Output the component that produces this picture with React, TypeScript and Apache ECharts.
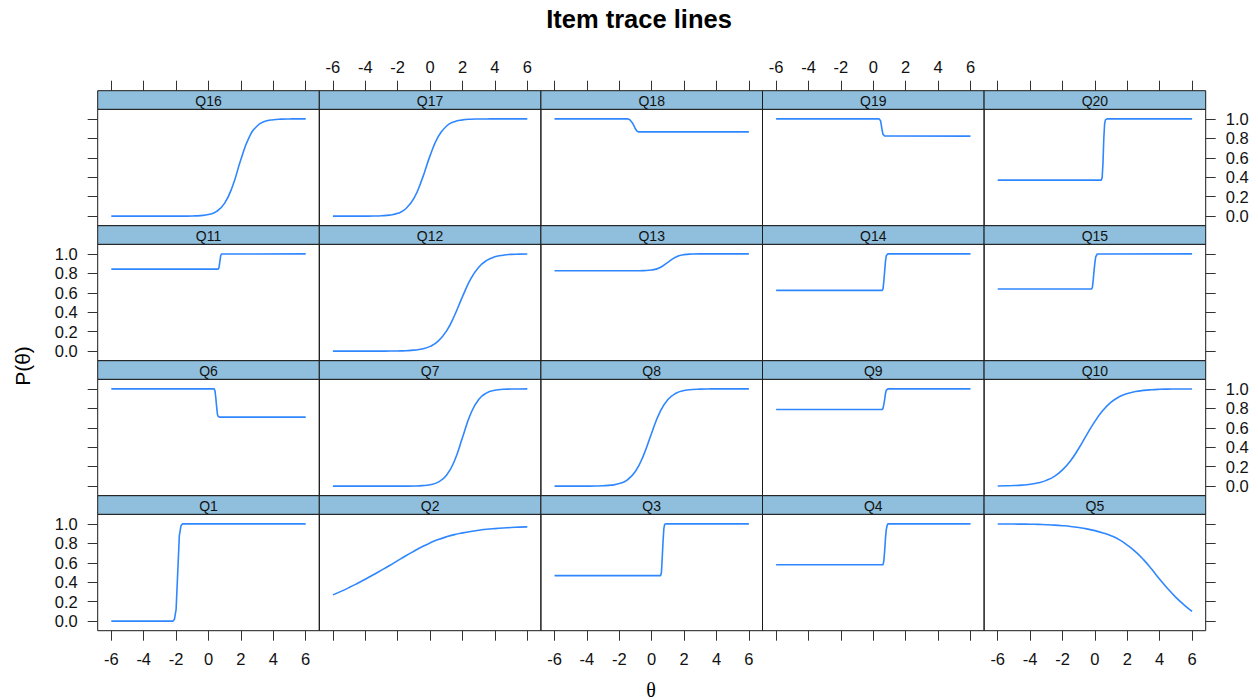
import React, { useEffect, useRef } from "react";
import * as echarts from "echarts";

// ---------- data ----------
const thetaGrid = [-6, -5.5, -5, -4.5, -4, -3.5, -3, -2.5, -2, -1.5, -1, -0.5, 0, 0.5, 1, 1.5, 2, 2.5, 3, 3.5, 4, 4.5, 5, 5.5, 6];
const xTicks = [-6, -4, -2, 0, 2, 4, 6];
const yTicks = [0, 0.2, 0.4, 0.6, 0.8, 1.0];

// smooth trace lines, values at thetaGrid
const q2 = [0.270, 0.306, 0.345, 0.387, 0.431, 0.477, 0.524, 0.572, 0.622, 0.672, 0.719, 0.764, 0.804, 0.838, 0.866, 0.889, 0.907, 0.922, 0.934, 0.944, 0.951, 0.957, 0.962, 0.966, 0.969];
const q5 = [0.999, 0.999, 0.998, 0.997, 0.996, 0.994, 0.991, 0.987, 0.981, 0.973, 0.962, 0.948, 0.930, 0.907, 0.878, 0.838, 0.782, 0.715, 0.632, 0.535, 0.43, 0.333, 0.245, 0.168, 0.10];
const q7 = [0, 0, 0, 0, 0, 0, 0, 0.0001, 0.0002, 0.0006, 0.0018, 0.0052, 0.0148, 0.0411, 0.109, 0.259, 0.5, 0.741, 0.891, 0.959, 0.985, 0.995, 0.998, 0.999, 1.0];
const q8 = [0, 0, 0.0001, 0.0002, 0.0006, 0.0016, 0.004, 0.0103, 0.0263, 0.0654, 0.153, 0.319, 0.547, 0.758, 0.89, 0.954, 0.982, 0.993, 0.997, 0.999, 1, 1, 1, 1, 1];
const q10 = [0.002, 0.0036, 0.0063, 0.0111, 0.0196, 0.0344, 0.0595, 0.101, 0.167, 0.262, 0.387, 0.529, 0.666, 0.78, 0.863, 0.918, 0.952, 0.972, 0.984, 0.991, 0.995, 0.997, 0.998, 0.999, 0.999];
const q12 = [0, 0, 0, 0, 0.0001, 0.0002, 0.0004, 0.0009, 0.0021, 0.0047, 0.0103, 0.0228, 0.0493, 0.103, 0.204, 0.364, 0.56, 0.739, 0.863, 0.933, 0.969, 0.986, 0.994, 0.997, 0.999];
const q13 = [0.826, 0.826, 0.826, 0.826, 0.826, 0.826, 0.826, 0.826, 0.826, 0.826, 0.826, 0.828, 0.834, 0.858, 0.913, 0.968, 0.992, 0.998, 1, 1, 1, 1, 1, 1, 1];
const q16 = [0, 0, 0, 0, 0, 0, 0, 0.0001, 0.0002, 0.0006, 0.0019, 0.0057, 0.0168, 0.0488, 0.134, 0.316, 0.582, 0.807, 0.926, 0.974, 0.991, 0.997, 0.999, 1, 1];
const q17 = [0, 0, 0.0001, 0.0002, 0.0006, 0.0015, 0.0041, 0.011, 0.029, 0.076, 0.182, 0.378, 0.622, 0.818, 0.924, 0.971, 0.989, 0.996, 0.998, 0.999, 1, 1, 1, 1, 1];

// near-step trace lines, [theta, P] pairs
const q1 = [[-6, 0], [-2.2, 0], [-2.1, 0.02], [-2.0, 0.12], [-1.9, 0.5], [-1.8, 0.88], [-1.7, 0.98], [-1.6, 1], [6, 1]];
const q3 = [[-6, 0.468], [0.55, 0.468], [0.6, 0.5], [0.65, 0.65], [0.7, 0.82], [0.75, 0.95], [0.8, 0.995], [0.9, 1], [6, 1]];
const q4 = [[-6, 0.58], [0.6, 0.58], [0.65, 0.62], [0.7, 0.72], [0.75, 0.85], [0.8, 0.94], [0.85, 0.98], [0.9, 1], [6, 1]];
const q6 = [[-6, 1], [0.35, 1], [0.4, 0.98], [0.45, 0.91], [0.5, 0.82], [0.55, 0.74], [0.6, 0.715], [0.7, 0.709], [6, 0.709]];
const q9 = [[-6, 0.788], [0.55, 0.788], [0.6, 0.8], [0.65, 0.84], [0.7, 0.89], [0.75, 0.95], [0.8, 0.985], [0.9, 1], [6, 1]];
const q11 = [[-6, 0.843], [0.6, 0.843], [0.65, 0.86], [0.7, 0.92], [0.75, 0.98], [0.8, 0.998], [6, 1]];
const q14 = [[-6, 0.625], [0.55, 0.625], [0.6, 0.64], [0.65, 0.72], [0.7, 0.82], [0.75, 0.92], [0.8, 0.98], [0.9, 1], [6, 1]];
const q15 = [[-6, 0.638], [-0.2, 0.638], [-0.15, 0.66], [-0.1, 0.74], [-0.05, 0.83], [0, 0.91], [0.05, 0.97], [0.15, 0.998], [6, 1]];
const q18 = [[-6, 1], [-1.5, 1], [-1.35, 0.99], [-1.2, 0.96], [-1.1, 0.93], [-1.0, 0.895], [-0.9, 0.872], [-0.8, 0.866], [6, 0.866]];
const q19 = [[-6, 1], [0.35, 1], [0.45, 0.98], [0.5, 0.93], [0.55, 0.88], [0.6, 0.84], [0.7, 0.824], [6, 0.822]];
const q20 = [[-6, 0.37], [0.4, 0.37], [0.45, 0.4], [0.5, 0.55], [0.55, 0.8], [0.6, 0.95], [0.65, 0.99], [0.75, 1], [6, 1]];

const itemNames = ["Q1", "Q2", "Q3", "Q4", "Q5", "Q6", "Q7", "Q8", "Q9", "Q10", "Q11", "Q12", "Q13", "Q14", "Q15", "Q16", "Q17", "Q18", "Q19", "Q20"];

const onGrid = (vals: number[]) => thetaGrid.map((t, i) => [t, vals[i]]);

const itemData: { pts: number[][]; smooth: boolean }[] = [
  { pts: q1, smooth: false },
  { pts: onGrid(q2), smooth: true },
  { pts: q3, smooth: false },
  { pts: q4, smooth: false },
  { pts: onGrid(q5), smooth: true },
  { pts: q6, smooth: false },
  { pts: onGrid(q7), smooth: true },
  { pts: onGrid(q8), smooth: true },
  { pts: q9, smooth: false },
  { pts: onGrid(q10), smooth: true },
  { pts: q11, smooth: false },
  { pts: onGrid(q12), smooth: true },
  { pts: onGrid(q13), smooth: true },
  { pts: q14, smooth: false },
  { pts: q15, smooth: false },
  { pts: onGrid(q16), smooth: true },
  { pts: onGrid(q17), smooth: true },
  { pts: q18, smooth: false },
  { pts: q19, smooth: false },
  { pts: q20, smooth: false },
];

// ---------- layout ----------
const PANEL_LEFT = 97.7;
const PANEL_W = 221.6;
const STRIP_TOP = 90.7;
const ROW_PITCH = 135;
const STRIP_H = 18.6;
const PANEL_H = 116.4;
const X_MIN = -6.84;
const X_MAX = 6.84;
const Y_MIN = -0.098;
const Y_MAX = 1.098;

const FONT = '"Liberation Sans", Arial, Helvetica, sans-serif';
const LINE_COLOR = "#2f87ff";
const STRIP_COLOR = "#8fbfdc";
const BORDER = "#1a1a1a";
const TICK_COLOR = "#333";
const TICK_FONT = 16.5;

function buildOption() {
  const grid: any[] = [];
  const xAxis: any[] = [];
  const yAxis: any[] = [];
  const series: any[] = [];
  const graphic: any[] = [];

  for (let r = 0; r < 4; r++) {
    for (let c = 0; c < 5; c++) {
      const i = r * 5 + c;
      const item = (3 - r) * 5 + c;
      const left = PANEL_LEFT + c * PANEL_W;
      const stripTop = STRIP_TOP + r * ROW_PITCH;
      const top = stripTop + STRIP_H;

      grid.push({
        left,
        top,
        width: PANEL_W,
        height: PANEL_H,
        show: true,
        borderColor: BORDER,
        borderWidth: 1,
        backgroundColor: "transparent",
        containLabel: false,
        outerBoundsMode: "none",
      });

      const isTop = r === 0;
      const isBottom = r === 3;
      xAxis.push({
        gridIndex: i,
        type: "value",
        min: X_MIN,
        max: X_MAX,
        show: isTop || isBottom,
        position: isTop ? "top" : "bottom",
        offset: isTop ? STRIP_H : 0,
        axisLine: { show: false, onZero: false },
        axisTick: {
          show: true,
          inside: false,
          length: 10,
          customValues: xTicks,
          lineStyle: { color: TICK_COLOR, width: 1 },
        },
        axisLabel: {
          show: isTop ? c % 2 === 1 : c % 2 === 0,
          customValues: xTicks,
          margin: isTop ? 15 : 20,
          fontSize: TICK_FONT,
          fontFamily: FONT,
          color: "#111",
        },
        splitLine: { show: false },
      });

      const isLeft = c === 0;
      const isRight = c === 4;
      yAxis.push({
        gridIndex: i,
        type: "value",
        min: Y_MIN,
        max: Y_MAX,
        show: isLeft || isRight,
        position: isLeft ? "left" : "right",
        axisLine: { show: false, onZero: false },
        axisTick: {
          show: true,
          inside: false,
          length: 10,
          customValues: yTicks,
          lineStyle: { color: TICK_COLOR, width: 1 },
        },
        axisLabel: {
          show: isLeft ? r === 1 || r === 3 : r === 0 || r === 2,
          customValues: yTicks,
          formatter: (v: number) => v.toFixed(1),
          margin: 20,
          fontSize: TICK_FONT,
          fontFamily: FONT,
          color: "#111",
        },
        splitLine: { show: false },
      });

      series.push({
        type: "line",
        name: itemNames[item],
        xAxisIndex: i,
        yAxisIndex: i,
        data: itemData[item].pts,
        showSymbol: false,
        symbol: "none",
        smooth: itemData[item].smooth ? 0.5 : false,
        silent: true,
        lineStyle: { color: LINE_COLOR, width: 1.6 },
      });

      graphic.push({
        type: "rect",
        silent: true,
        z: 10,
        shape: { x: left, y: stripTop, width: PANEL_W, height: STRIP_H },
        style: { fill: STRIP_COLOR, stroke: BORDER, lineWidth: 1 },
      });
      graphic.push({
        type: "text",
        silent: true,
        z: 11,
        x: left + PANEL_W / 2,
        y: stripTop + STRIP_H / 2 + 0.5,
        style: {
          text: itemNames[item],
          font: `14px ${FONT}`,
          fill: "#111",
          align: "center",
          verticalAlign: "middle",
          textAlign: "center",
          textVerticalAlign: "middle",
        },
      });
    }
  }

  graphic.push({
    type: "text",
    silent: true,
    x: 639,
    y: 19,
    style: {
      text: "Item trace lines",
      font: `bold 25.5px ${FONT}`,
      fill: "#000",
      align: "center",
      verticalAlign: "middle",
      textAlign: "center",
      textVerticalAlign: "middle",
    },
  });
  graphic.push({
    type: "text",
    silent: true,
    x: 22,
    y: 366,
    rotation: Math.PI / 2,
    style: {
      text: "P(θ)",
      font: `21px ${FONT}`,
      fill: "#000",
      align: "center",
      verticalAlign: "middle",
      textAlign: "center",
      textVerticalAlign: "middle",
    },
  });
  graphic.push({
    type: "text",
    silent: true,
    x: 651,
    y: 690,
    style: {
      text: "θ",
      font: `20px "Liberation Serif", "DejaVu Serif", serif`,
      fill: "#000",
      align: "center",
      verticalAlign: "middle",
      textAlign: "center",
      textVerticalAlign: "middle",
    },
  });

  return {
    animation: false,
    backgroundColor: "#ffffff",
    grid,
    xAxis,
    yAxis,
    series,
    graphic,
  };
}

export default function App() {
  const ref = useRef<HTMLDivElement>(null);
  useEffect(() => {
    if (!ref.current) return;
    const chart = echarts.init(ref.current, undefined, { renderer: "svg" });
    chart.setOption(buildOption() as any);
    return () => chart.dispose();
  }, []);
  return (
    <div
      ref={ref}
      style={{ position: "fixed", left: 0, top: 0, width: 1258, height: 700, background: "#fff" }}
    />
  );
}
